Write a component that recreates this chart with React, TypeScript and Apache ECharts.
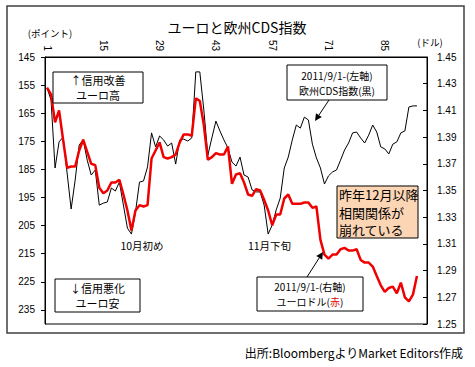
import React, { useEffect, useRef } from "react";
import * as echarts from "echarts";

// 95 business-day slots (top axis), data for the first 93
const categories: string[] = Array.from({ length: 95 }, (_, i) => String(i + 1));

// 欧州CDS指数 (left axis, inverted) – black
const cdsIndex: number[] = [
  156.0, 160.3, 184.5, 175.2, 173.5, 186.3, 199.1, 188.8, 176.3, 174.5,
  181.7, 187.0, 185.2, 197.7, 197.0, 196.6, 191.6, 192.7, 189.5, 197.7,
  205.9, 208.0, 200.2, 189.5, 189.1, 184.1, 172.0, 177.0, 173.1, 174.5,
  176.7, 175.6, 183.1, 174.5, 174.2, 174.9, 173.8, 150.3, 150.3, 163.9,
  179.9, 173.8, 167.8, 171.3, 174.5, 177.4, 182.4, 183.8, 180.6, 187.0,
  187.7, 192.3, 193.0, 193.0, 197.7, 208.0, 204.8, 199.4, 195.2, 184.5,
  180.6, 174.5, 169.2, 170.3, 166.4, 167.4, 176.0, 180.9, 184.5, 190.2,
  187.3, 185.9, 185.2, 181.7, 178.1, 175.6, 172.0, 171.7, 173.8, 175.6,
  172.8, 169.2, 171.7, 177.0, 177.7, 179.5, 176.0, 175.2, 172.0, 171.3,
  162.8, 162.4, 162.4,
];

// ユーロドル (right axis) – red
const eurUsd: number[] = [
  1.427, 1.422, 1.401, 1.410, 1.388, 1.367, 1.368, 1.368, 1.380, 1.388,
  1.379, 1.370, 1.369, 1.352, 1.348, 1.350, 1.356, 1.356, 1.358, 1.347,
  1.335, 1.320, 1.335, 1.339, 1.338, 1.339, 1.374, 1.380, 1.386, 1.375,
  1.374, 1.375, 1.377, 1.386, 1.392, 1.392, 1.391, 1.419, 1.417, 1.399,
  1.373, 1.375, 1.378, 1.377, 1.377, 1.383, 1.355, 1.362, 1.363, 1.356,
  1.347, 1.346, 1.351, 1.350, 1.343, 1.335, 1.324, 1.332, 1.332, 1.344,
  1.347, 1.340, 1.340, 1.340, 1.341, 1.341, 1.337, 1.338, 1.313, 1.302,
  1.299, 1.302, 1.302, 1.306, 1.307, 1.305, 1.305, 1.306, 1.298, 1.296,
  1.296, 1.293, 1.286, 1.279, 1.274, 1.277, 1.278, 1.273, 1.281, 1.270,
  1.267, 1.272, 1.286,
];

const FONT = "'Liberation Sans', 'Noto Sans CJK JP', sans-serif";
const JP = "'Noto Sans CJK JP', 'Liberation Sans', sans-serif";

function arrow(x0: number, y0: number, x1: number, y1: number) {
  const dx = x1 - x0;
  const dy = y1 - y0;
  const L = Math.hypot(dx, dy);
  const ux = dx / L;
  const uy = dy / L;
  const hl = 7;
  const hw = 3.5;
  const bx = x1 - ux * hl;
  const by = y1 - uy * hl;
  return [
    { type: "line", z: 110, shape: { x1: x0, y1: y0, x2: bx, y2: by }, style: { stroke: "#000", lineWidth: 1 } },
    {
      type: "polygon",
      z: 110,
      shape: { points: [[x1, y1], [bx - uy * hw, by + ux * hw], [bx + uy * hw, by - ux * hw]] },
      style: { fill: "#000" },
    },
  ];
}

function box(x: number, y: number, w: number, h: number, fill = "#fff") {
  return { type: "rect", z: 100, shape: { x, y, width: w, height: h }, style: { fill, stroke: "#000", lineWidth: 1 } };
}

function txt(x: number, y: number, text: string, fontSize: number, extra: any = {}) {
  return {
    type: "text",
    z: 105,
    x,
    y,
    style: {
      text,
      fontSize,
      fontFamily: JP,
      fill: "#000",
      align: "center",
      verticalAlign: "middle",
      ...extra,
    },
  };
}

export default function App() {
  const ref = useRef<HTMLDivElement>(null);

  useEffect(() => {
    document.body.style.margin = "0";
    if (!ref.current) return;
    const chart = echarts.init(ref.current, undefined, { renderer: "svg" });

    const option: any = {
      animation: false,
      backgroundColor: "#fff",
      grid: {
        left: 45,
        top: 57,
        width: 382,
        height: 267,
        show: true,
        borderColor: "#000",
        borderWidth: 1,
        backgroundColor: "transparent",
      },
      xAxis: {
        type: "category",
        position: "top",
        data: categories,
        boundaryGap: true,
        axisLine: { show: true, lineStyle: { color: "#000" } },
        axisTick: { show: false },
        axisLabel: {
          interval: 13,
          rotate: 90,
          margin: 6,
          fontSize: 10,
          color: "#000",
          fontFamily: FONT,
        },
        splitLine: { show: false },
      },
      yAxis: [
        {
          type: "value",
          position: "left",
          inverse: true,
          min: 145,
          max: 240,
          interval: 10,
          axisLine: { show: true, lineStyle: { color: "#000" } },
          axisTick: { show: true, inside: false, length: 4, lineStyle: { color: "#000" } },
          axisLabel: { showMaxLabel: false, margin: 10, fontSize: 10, color: "#000", fontFamily: FONT },
          splitLine: { show: false },
        },
        {
          type: "value",
          position: "right",
          min: 1.25,
          max: 1.45,
          interval: 0.02,
          axisLine: { show: true, lineStyle: { color: "#000" } },
          axisTick: { show: true, inside: true, length: 4, lineStyle: { color: "#000" } },
          axisLabel: {
            margin: 10,
            fontSize: 10,
            color: "#000",
            fontFamily: FONT,
            formatter: (v: number) => v.toFixed(2),
          },
          splitLine: { show: false },
        },
      ],
      series: [
        {
          name: "欧州CDS指数",
          type: "line",
          yAxisIndex: 0,
          data: cdsIndex,
          showSymbol: false,
          symbol: "none",
          lineStyle: { color: "#000", width: 1 },
          z: 2,
        },
        {
          name: "ユーロドル",
          type: "line",
          yAxisIndex: 1,
          data: eurUsd,
          showSymbol: false,
          symbol: "none",
          lineStyle: { color: "#f00000", width: 2.5 },
          z: 3,
        },
      ],
      graphic: {
        elements: [
          {
            type: "rect",
            z: -1,
            shape: { x: 7, y: 6, width: 457, height: 327 },
            style: { fill: "none", stroke: "#404040", lineWidth: 1.5 },
          },
          txt(237, 27, "ユーロと欧州CDS指数", 14),
          txt(50, 33, "(ポイント)", 9.5),
          txt(430, 42, "(ドル)", 9.5),
          // upper-left box
          box(53, 72, 90, 31),
          txt(98, 87.5, "↑信用改善\nユーロ高", 11, { lineHeight: 15 }),
          // lower-left box
          box(55, 279, 85, 33),
          txt(97.5, 288, "↓信用悪化", 11),
          txt(97.5, 303, "ユーロ安", 11),
          // CDS note box
          box(287, 65, 100, 35),
          txt(337, 82.5, "2011/9/1-(左軸)\n欧州CDS指数(黒)", 10, { lineHeight: 15 }),
          ...arrow(329, 100, 315, 121),
          // EUR/USD note box
          box(257, 277, 106, 34),
          txt(310, 286.5, "2011/9/1-(右軸)", 10),
          txt(330, 301.5, "ユーロドル(", 10, { align: "right" }),
          txt(335, 301.5, "赤", 10, { fill: "#e00000" }),
          txt(340, 301.5, ")", 10, { align: "left" }),
          ...arrow(307, 277, 323, 252),
          // peach comment box
          box(337, 186, 81, 52, "#fcd5b4"),
          txt(339, 212, "昨年12月以降\n相関関係が\n崩れている", 13, { align: "left", lineHeight: 17.5 }),
          // period labels
          txt(142, 245, "10月初め", 10.5),
          txt(269.5, 245, "11月下旬", 10.5),
          // source
          txt(463, 352, "出所:BloombergよりMarket Editors作成", 12, { align: "right" }),
        ],
      },
    };

    chart.setOption(option);
    return () => chart.dispose();
  }, []);

  return <div ref={ref} style={{ width: 475, height: 367 }} />;
}
